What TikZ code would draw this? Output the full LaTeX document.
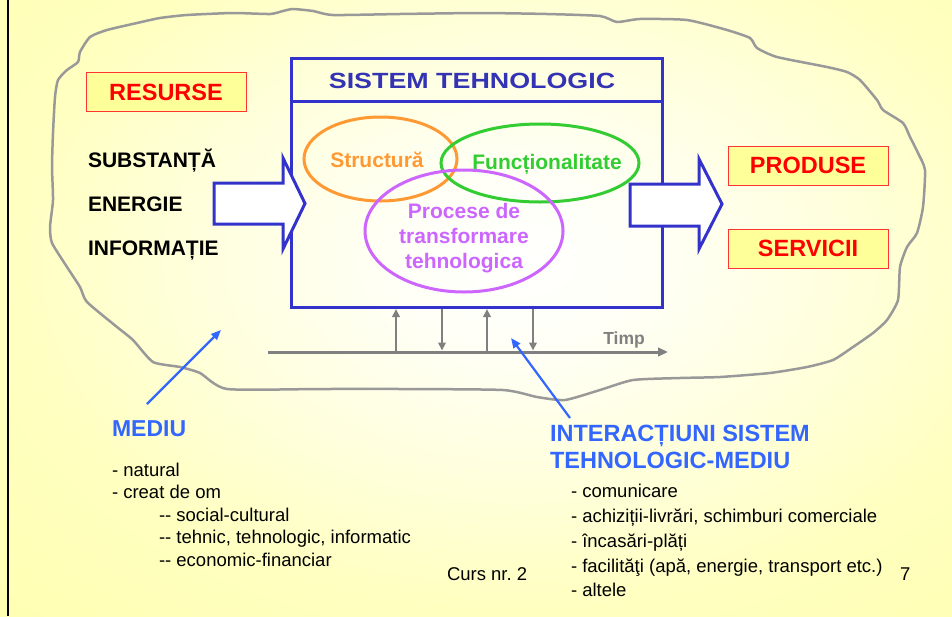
\documentclass[tikz,border=0pt]{standalone}
\usepackage{fontspec}
\setmainfont{Liberation Sans}
\usetikzlibrary{arrows.meta,shapes.geometric}
\frenchspacing
\definecolor{sysblue}{HTML}{3333CC}
\definecolor{titleblue}{HTML}{3333B3}
\definecolor{orc}{HTML}{FF9933}
\definecolor{grc}{HTML}{33CC33}
\definecolor{puc}{HTML}{CC66FF}
\definecolor{cloudc}{HTML}{999999}
\definecolor{axc}{HTML}{808080}
\definecolor{lblue}{HTML}{3366FF}
\definecolor{boxred}{HTML}{FF3333}
\definecolor{boxyel}{HTML}{FFFF99}
\definecolor{bga}{HTML}{FFFFFD}
\definecolor{bgb}{HTML}{FFFFF8}
\definecolor{bgc}{HTML}{FFFFDE}
\definecolor{bgd}{HTML}{FFFFC0}
\definecolor{bge}{HTML}{FFFFB0}
\pgfdeclareradialshading{bgshade}{\pgfpoint{0bp}{0bp}}{color(0bp)=(bga); color(5bp)=(bgb); color(14bp)=(bgc); color(23bp)=(bgd); color(35bp)=(bge); color(50bp)=(bge)}
\tikzset{
  lbl/.style={inner sep=0pt, outer sep=0pt},
  redlbl/.style={lbl, text=red, font=\fontsize{23.5}{28}\selectfont\bfseries},
  resbox/.style={draw=boxred, fill=boxyel, line width=1pt, minimum width=160pt, minimum height=39pt, inner sep=0pt},
  sidelbl/.style={lbl, anchor=base west, font=\fontsize{21}{25}\selectfont\bfseries},
  elltext/.style={lbl, anchor=base, font=\fontsize{21}{25}\selectfont\bfseries},
  ellnode/.style={ellipse, line width=3pt, inner sep=0pt},
  blockarrow/.style={draw=sysblue, fill=white, line width=3pt, line join=miter},
  bluelbl/.style={lbl, anchor=base west, text=lblue, font=\fontsize{23.5}{28}\selectfont\bfseries},
  listlbl/.style={lbl, anchor=base west, font=\fontsize{18.5}{22}\selectfont},
  grayarrow/.style={draw=axc, line width=2.6pt, -{Triangle[length=8pt,width=7.5pt]}},
  bluearrow/.style={draw=lblue, line width=2.2pt, -{Triangle[length=10pt,width=8pt]}},
}
\begin{document}
\begin{tikzpicture}[x=1pt,y=-1pt]
\useasboundingbox (0,0) rectangle (952,616);
\begin{scope}
  \clip (0,0) rectangle (952,616);
  \shade[shading=bgshade] (-40,-120) rectangle (1080,640);
\end{scope}
% left border line
\draw[line width=2pt] (8,0) -- (8,616);
% cloud (environment)
\draw[cloudc, line width=2.5pt] plot[smooth cycle, tension=0.35] coordinates {
 (80,52) (90,37) (107,30) (137,23) (160,18) (187,15) (233,13) (270,14) (283,11) (293,9)
 (313,11) (333,15) (400,14) (480,13) (547,14) (600,16) (617,22) (640,19) (687,20) (727,30)
 (750,38) (757,48) (777,57) (827,67) (847,72) (860,80) (877,100) (883,110) (903,123) (910,137)
 (918,153) (925,170) (923,207) (917,233) (907,247) (900,267) (898,300) (887,320) (873,333)
 (853,347) (833,360) (807,367) (770,373) (720,377) (680,378) (633,380) (600,390) (565,400)
 (537,397) (503,390) (400,389) (320,389) (227,389) (200,373) (180,367) (153,362) (133,340)
 (117,327) (87,302) (80,287) (67,267) (52,243) (50,227) (53,200) (52,167) (53,133) (55,97)
 (58,80) (67,70) (78,62)};
% resource boxes
\node[resbox, redlbl] (resurse) at (166,92) {RESURSE};
\node[resbox, redlbl] (produse) at (808,165.5) {PRODUSE};
\node[resbox, redlbl] (servicii) at (808,248.5) {SERVICII};
\node[sidelbl] (subst) at (88,167) {SUBSTANȚĂ};
\node[sidelbl] (energ) at (88,211) {ENERGIE};
\node[sidelbl] (infor) at (88,255) {INFORMAȚIE};
% system box
\node[draw=sysblue, line width=3pt, minimum width=371pt, minimum height=249pt, inner sep=0pt, anchor=north west] (sys) at (290,57) {};
\coordinate (divy) at (0,101);
\draw[sysblue, line width=3pt] (sys.west |- divy) -- (sys.east |- divy);
\node[lbl, anchor=base, text=titleblue, font=\fontsize{22}{26}\selectfont\bfseries] (title) at (472,88) {\scalebox{1.22}[1]{SISTEM TEHNOLOGIC}};
% ellipses
\node[ellnode, draw=orc, minimum width=153pt, minimum height=84pt] (estr) at (380.5,159) {};
\node[ellnode, draw=grc, minimum width=198pt, minimum height=78pt] (efun) at (540,163) {};
\node[ellnode, draw=puc, minimum width=198pt, minimum height=122pt] (epro) at (464,231) {};
\node[elltext, text=orc] (tstr) at (377,167) {Structură};
\node[elltext, text=grc] (tfun) at (547,169) {Funcționalitate};
\node[elltext, text=puc] (tpro1) at (464,218) {Procese de};
\node[elltext, text=puc] (tpro2) at (464,243) {transformare};
\node[elltext, text=puc] (tpro3) at (464,268) {tehnologica};
% block arrows
\draw[blockarrow] (214,183) -- (283,183) -- (283,158) -- (305,203.5) -- (283,249) -- (283,224) -- (214,224) -- cycle;
\draw[blockarrow] (630,184) -- (699,184) -- (699,159) -- (722,204) -- (699,249) -- (699,226) -- (630,226) -- cycle;
% time axis
\coordinate (ax0) at (268,352);
\coordinate (ax1) at (668,352);
\draw[draw=axc, line width=3pt, -{Triangle[length=10pt,width=8.5pt]}] (ax0) -- (ax1);
\node[lbl, anchor=base, text=axc, font=\fontsize{17.5}{21}\selectfont\bfseries] (timp) at (624,344) {Timp};
\coordinate (t1) at (396,352);
\coordinate (t2) at (442,352);
\coordinate (t3) at (487,352);
\coordinate (t4) at (533,352);
\draw[grayarrow] (t1) -- (t1 |- sys.south);
\draw[grayarrow, shorten >=1.5pt] (t2 |- sys.south) -- (t2);
\draw[grayarrow] (t3) -- (t3 |- sys.south);
\draw[grayarrow, shorten >=1.5pt] (t4 |- sys.south) -- (t4);
% pointer arrows
\coordinate (ma) at (147,404);
\coordinate (mb) at (221,330);
\draw[bluearrow] (ma) -- (mb);
\coordinate (ia) at (570,418);
\coordinate (ib) at (511,338);
\draw[bluearrow] (ia) -- (ib);
% labels below
\node[bluelbl, font=\fontsize{23}{28}\selectfont\bfseries] (mediu) at (112,436) {MEDIU};
\node[listlbl] (m1) at (112,476) {- natural};
\node[listlbl] (m2) at (112,498) {- creat de om};
\node[listlbl] (m3) at (159,521) {-\kern0pt- social-cultural};
\node[listlbl] (m4) at (159,543) {-\kern0pt- tehnic, tehnologic, informatic};
\node[listlbl] (m5) at (159,566) {-\kern0pt- economic-financiar};
\node[listlbl] (curs) at (447,580) {Curs nr. 2};
\node[bluelbl] (inter1) at (550,441) {INTERACȚIUNI SISTEM};
\node[bluelbl] (inter2) at (550,468) {TEHNOLOGIC-MEDIU};
\node[listlbl] (i1) at (571,497) {- comunicare};
\node[listlbl] (i2) at (571,522) {- achiziții-livrări, schimburi comerciale};
\node[listlbl] (i3) at (571,547) {- încasări-plăți};
\node[listlbl] (i4) at (571,572) {- facilităţi (apă, energie, transport etc.)};
\node[listlbl] (i5) at (571,596) {- altele};
\node[listlbl] (pnum) at (900,580) {7};
\end{tikzpicture}
\end{document}
